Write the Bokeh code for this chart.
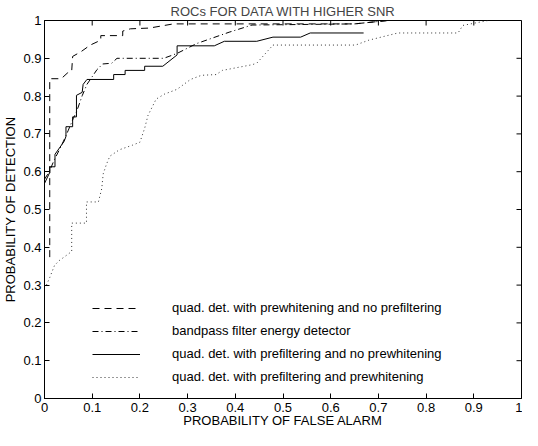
import math
from bokeh.plotting import figure
from bokeh.models import Range1d, FixedTicker, Legend, LegendItem
from bokeh.embed import file_html
from bokeh.resources import INLINE

title_text = "ROCs FOR DATA WITH HIGHER SNR"
x_label = "PROBABILITY OF FALSE ALARM"
y_label = "PROBABILITY OF DETECTION"

tick_values = [0, 0.1, 0.2, 0.3, 0.4, 0.5, 0.6, 0.7, 0.8, 0.9, 1]
tick_labels = ["0", "0.1", "0.2", "0.3", "0.4", "0.5", "0.6", "0.7", "0.8", "0.9", "1"]

# quad. det. with prewhitening and no prefiltering (dashed)
pw_x = [0.011, 0.011, 0.035, 0.048, 0.057, 0.059, 0.076, 0.096, 0.118, 0.118, 0.164, 0.164,
        0.18, 0.22, 0.27, 0.65, 0.72, 1.0]
pw_y = [0.374, 0.846, 0.846, 0.861, 0.866, 0.905, 0.917, 0.935, 0.948, 0.960, 0.960, 0.972,
        0.978, 0.980, 0.991, 0.991, 1.0, 1.0]

# bandpass filter energy detector (dash-dot)
bp_x = [0.0, 0.01, 0.02, 0.03, 0.041, 0.05, 0.06, 0.067, 0.079, 0.089, 0.11, 0.122, 0.141,
        0.152, 0.25, 0.278, 0.319, 0.387, 0.435, 0.65, 0.72, 1.0]
bp_y = [0.58, 0.60, 0.63, 0.655, 0.684, 0.71, 0.74, 0.758, 0.801, 0.831, 0.870, 0.885, 0.887,
        0.900, 0.900, 0.913, 0.939, 0.969, 0.988, 0.991, 1.0, 1.0]

# quad. det. with prefiltering and no prewhitening (solid)
pf_x = [0.0, 0.011, 0.011, 0.022, 0.022, 0.041, 0.045, 0.045, 0.059, 0.059, 0.067, 0.067,
        0.079, 0.081, 0.089, 0.145, 0.145, 0.169, 0.169, 0.21, 0.21, 0.248, 0.278, 0.278,
        0.356, 0.377, 0.445, 0.479, 0.537, 0.557, 0.669]
pf_y = [0.569, 0.598, 0.613, 0.613, 0.646, 0.68, 0.693, 0.719, 0.719, 0.745, 0.745, 0.802,
        0.81, 0.831, 0.844, 0.844, 0.857, 0.857, 0.868, 0.868, 0.879, 0.879, 0.909, 0.933,
        0.933, 0.945, 0.945, 0.956, 0.956, 0.967, 0.967]

# quad. det. with prefiltering and prewhitening (dotted)
pp_x = [0.004, 0.011, 0.021, 0.031, 0.041, 0.057, 0.057, 0.088, 0.088, 0.113, 0.12, 0.123,
        0.13, 0.137, 0.157, 0.184, 0.2, 0.21, 0.217, 0.234, 0.251, 0.278, 0.306, 0.329, 0.36,
        0.373, 0.435, 0.445, 0.479, 0.652, 0.68, 0.741, 0.867, 0.877, 0.93]
pp_y = [0.30, 0.32, 0.352, 0.365, 0.374, 0.389, 0.464, 0.464, 0.52, 0.52, 0.555, 0.594,
        0.62, 0.641, 0.658, 0.67, 0.678, 0.715, 0.749, 0.792, 0.805, 0.818, 0.844, 0.855,
        0.857, 0.868, 0.883, 0.887, 0.935, 0.935, 0.948, 0.967, 0.967, 0.987, 1.0]

labels = ["quad. det. with prewhitening and no prefiltering",
          "bandpass filter energy detector",
          "quad. det. with prefiltering and no prewhitening",
          "quad. det. with prefiltering and prewhitening"]

FONT = "Liberation Sans"
FS = "13px"

p = figure(width=522, height=430, output_backend="svg", toolbar_location=None,
           x_range=Range1d(0, 1), y_range=Range1d(0, 1),
           min_border_left=39, min_border_right=1, min_border_top=18, min_border_bottom=32)
p.title.text = title_text
p.title.align = "center"
p.title.text_font = FONT
p.title.text_font_size = FS
p.title.text_font_style = "normal"
p.title.standoff = 3

p.grid.visible = False
p.outline_line_color = "black"
p.outline_line_width = 1
p.background_fill_color = "white"
p.border_fill_color = "white"

for ax in (p.xaxis[0], p.yaxis[0]):
    ax.ticker = FixedTicker(ticks=tick_values)
    ax.major_label_overrides = {v: l for v, l in zip(tick_values, tick_labels)}
    ax.major_tick_in = 5
    ax.major_tick_out = 0
    ax.minor_tick_in = 0
    ax.minor_tick_out = 0
    ax.axis_line_color = "black"
    ax.major_tick_line_color = "black"
    ax.major_label_text_font = FONT
    ax.major_label_text_font_size = FS
    ax.major_label_text_color = "black"
    ax.axis_label_text_font = FONT
    ax.axis_label_text_font_size = FS
    ax.axis_label_text_font_style = "normal"
    ax.axis_label_text_color = "black"

p.xaxis.axis_label = x_label
p.yaxis.axis_label = y_label
p.xaxis.major_label_standoff = 4
p.xaxis.axis_label_standoff = -2
p.yaxis.major_label_standoff = 3
p.yaxis.axis_label_standoff = 2

# inner ticks on the top and right edges of the box
p.ray(x=tick_values, y=[1] * len(tick_values), length=5, length_units="screen",
      angle=-math.pi / 2, line_color="black", line_width=1)
p.ray(x=[1] * len(tick_values), y=tick_values, length=5, length_units="screen",
      angle=math.pi, line_color="black", line_width=1)

r1 = p.line(pw_x, pw_y, line_color="black", line_width=1, line_dash="7 5")
r2 = p.line(bp_x, bp_y, line_color="black", line_width=1, line_dash="6 3 1 3")
r3 = p.line(pf_x, pf_y, line_color="black", line_width=1)
r4 = p.line(pp_x, pp_y, line_color="#333333", line_width=1, line_dash="1 3")

legend = Legend(items=[LegendItem(label=labels[0], renderers=[r1]),
                       LegendItem(label=labels[1], renderers=[r2]),
                       LegendItem(label=labels[2], renderers=[r3]),
                       LegendItem(label=labels[3], renderers=[r4])],
                location=(48, 10))
legend.glyph_width = 48
legend.glyph_height = 14
legend.label_height = 23
legend.spacing = 0
legend.label_standoff = 32
legend.padding = 0
legend.margin = 0
legend.border_line_alpha = 0
legend.background_fill_alpha = 0
legend.label_text_font = FONT
legend.label_text_font_size = FS
legend.label_text_color = "black"
p.add_layout(legend)

open("out.html", "w").write(file_html(p, INLINE))
